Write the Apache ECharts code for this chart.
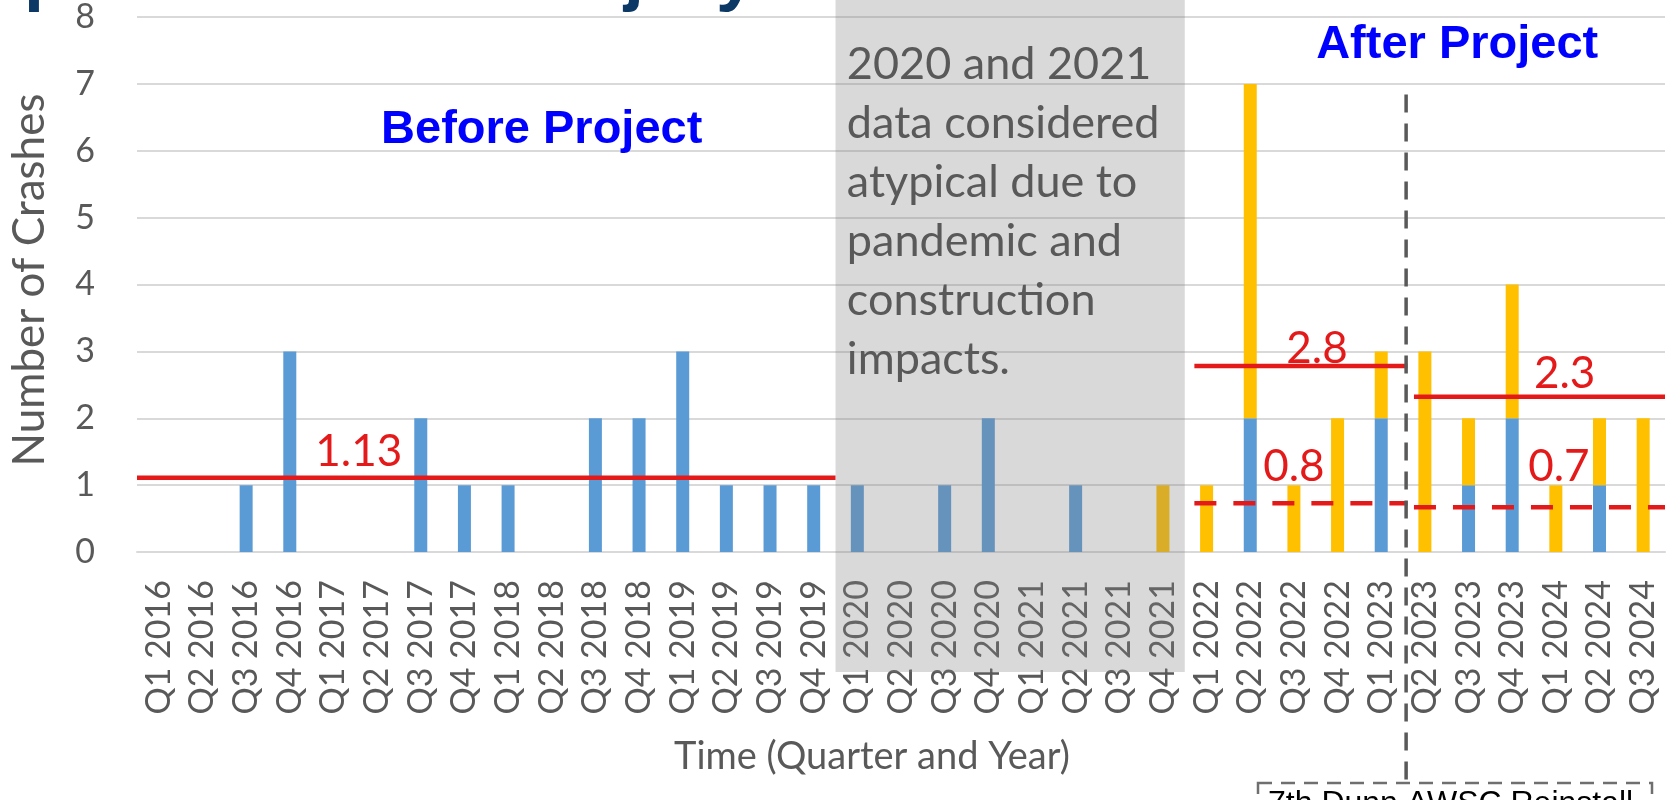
<!DOCTYPE html>
<html>
<head>
<meta charset="utf-8">
<script src="https://cdn.jsdelivr.net/npm/echarts@6/dist/echarts.min.js"></script>
<style>
html,body{margin:0;padding:0;background:#fff;}
#chart{width:1666px;height:800px;}
</style>
</head>
<body>
<div id="chart"></div>
<script>
// ---- data ----
const categories = [
  'Q1 2016','Q2 2016','Q3 2016','Q4 2016',
  'Q1 2017','Q2 2017','Q3 2017','Q4 2017',
  'Q1 2018','Q2 2018','Q3 2018','Q4 2018',
  'Q1 2019','Q2 2019','Q3 2019','Q4 2019',
  'Q1 2020','Q2 2020','Q3 2020','Q4 2020',
  'Q1 2021','Q2 2021','Q3 2021','Q4 2021',
  'Q1 2022','Q2 2022','Q3 2022','Q4 2022',
  'Q1 2023','Q2 2023','Q3 2023','Q4 2023',
  'Q1 2024','Q2 2024','Q3 2024'
];
const blueCrashes = [0,0,1,3, 0,0,2,1, 1,0,2,2, 3,1,1,1, 1,0,1,2, 0,1,0,0, 0,2,0,0, 2,0,1,2, 0,1,0];
const orangeCrashes = [0,0,0,0, 0,0,0,0, 0,0,0,0, 0,0,0,0, 0,0,0,0, 0,0,0,1, 1,5,1,2, 1,3,1,2, 1,1,2];

// average lines (x in category-index units, y in crashes)
const avgLineStart = [-0.5, 23.72, 28.75];
const avgLineEnd   = [15.5, 28.6, 34.5];
const totalAvg     = [1.11, 2.78, 2.32];
const blueAvg      = [null, 0.73, 0.67];
const totalAvgText = ['1.13', '2.8', '2.3'];
const blueAvgText  = [null, '0.8', '0.7'];

const atypicalFrom = 15.5, atypicalTo = 23.5;
const projectSplit = 28.57;

// ---- chart ----
const chart = echarts.init(document.getElementById('chart'), null, {renderer: 'canvas'});
const RED = '#e41a1a';
const GRAYTXT = '#595959';

const series = [
  {type: 'bar', name: 'blue', stack: 'c', data: blueCrashes, barWidth: 13,
   itemStyle: {color: '#5b9bd5'}, z: 2},
  {type: 'bar', name: 'orange', stack: 'c', data: orangeCrashes, barWidth: 13,
   itemStyle: {color: '#ffc000'}, z: 2}
];
for (let i = 0; i < avgLineStart.length; i++) {
  series.push({type: 'line', xAxisIndex: 1, yAxisIndex: 0, symbol: 'none', clip: false, z: 5,
    data: [[avgLineStart[i], totalAvg[i]], [avgLineEnd[i], totalAvg[i]]],
    lineStyle: {color: RED, width: 4.5}});
  if (blueAvg[i] != null) {
    series.push({type: 'line', xAxisIndex: 1, yAxisIndex: 0, symbol: 'none', clip: false, z: 5,
      data: [[avgLineStart[i], blueAvg[i]], [avgLineEnd[i], blueAvg[i]]],
      lineStyle: {color: RED, width: 4.5, type: [22, 17]}});
  }
}

chart.setOption({
  animation: false,
  grid: {left: 137, right: 1, top: 13, bottom: 248},
  xAxis: [
    {type: 'category', data: categories, boundaryGap: true,
     axisLine: {lineStyle: {color: '#d9d9d9', width: 2}},
     axisTick: {show: false},
     axisLabel: {rotate: 90, margin: 28, interval: 0, color: GRAYTXT, fontFamily: 'Lato', fontSize: 34}},
    {type: 'value', min: -0.5, max: 34.5, show: false}
  ],
  yAxis: {type: 'value', min: 0, max: 8, interval: 1,
    axisLine: {show: false}, axisTick: {show: false},
    splitLine: {lineStyle: {color: '#d9d9d9', width: 2}},
    axisLabel: {margin: 42, color: GRAYTXT, fontFamily: 'Lato', fontSize: 34}},
  series: series
});

function px(x) { return chart.convertToPixel({xAxisIndex: 1}, x); }
function py(y) { return chart.convertToPixel({yAxisIndex: 0}, y); }

const g = [];
// partially visible slide title (only its lowest part falls inside the picture)
g.push({type: 'text', z: 20, style: {text: 'Impact on Fatal & Injury Crashes', x: -60, y: 13,
  font: 'bold 72px "Liberation Sans"', fill: '#0c3866', textAlign: 'left', textVerticalAlign: 'bottom'}});
// atypical period shading
const gx0 = px(atypicalFrom), gx1 = px(atypicalTo);
g.push({type: 'rect', z: 10, shape: {x: gx0, y: 0, width: gx1 - gx0, height: 672},
  style: {fill: 'rgba(128,128,128,0.3)'}});
g.push({type: 'text', z: 11, style: {
  text: '2020 and 2021\ndata considered\natypical due to\npandemic and\nconstruction\nimpacts.',
  x: px(15.76), y: 35, font: '45px Lato', fill: GRAYTXT, lineHeight: 59,
  textAlign: 'left', textVerticalAlign: 'top'}});
// phase labels
g.push({type: 'text', z: 11, style: {text: 'Before Project', x: px(8.77), y: py(6.09) + 9,
  font: 'bold 47px "Liberation Sans"', fill: '#0000ff', textAlign: 'center', textVerticalAlign: 'bottom'}});
g.push({type: 'text', z: 11, style: {text: 'After Project', x: px(29.74), y: py(7.37) + 9,
  font: 'bold 47px "Liberation Sans"', fill: '#0000ff', textAlign: 'center', textVerticalAlign: 'bottom'}});
// value labels
const totalLabelAt = [[4.58, 1.30], [26.53, 2.84], [32.2, 2.47]];
const blueLabelAt = [null, [26.0, 1.08], [32.07, 1.08]];
for (let i = 0; i < totalAvgText.length; i++) {
  g.push({type: 'text', z: 12, style: {text: totalAvgText[i], x: px(totalLabelAt[i][0]), y: py(totalLabelAt[i][1]) + 9,
    font: '44px Lato', fill: RED, textAlign: 'center', textVerticalAlign: 'bottom'}});
  if (blueAvgText[i]) {
    g.push({type: 'text', z: 12, style: {text: blueAvgText[i], x: px(blueLabelAt[i][0]), y: py(blueLabelAt[i][1]) + 9,
      font: '44px Lato', fill: RED, textAlign: 'center', textVerticalAlign: 'bottom'}});
  }
}
// project split marker
const sx = px(projectSplit);
g.push({type: 'line', z: 12, shape: {x1: sx, y1: py(6.84), x2: sx, y2: 783},
  style: {stroke: '#595959', lineWidth: 3.5, lineDash: [18, 11]}});
g.push({type: 'rect', z: 12, shape: {x: 1258, y: 783, width: 394, height: 60},
  style: {fill: 'none', stroke: '#6f6f6f', lineWidth: 2.5, lineDash: [14, 9]}});
g.push({type: 'text', z: 12, style: {text: '7th Dunn AWSC Reinstall', x: 1268, y: 788,
  font: '32px "Liberation Sans"', fill: '#000', textAlign: 'left', textVerticalAlign: 'top'}});
// axis titles
g.push({type: 'text', z: 12, rotation: Math.PI / 2, x: 30, y: 280, style: {text: 'Number of Crashes', x: 0, y: 0,
  font: '44px Lato', fill: GRAYTXT, textAlign: 'center', textVerticalAlign: 'middle'}});
g.push({type: 'text', z: 12, style: {text: 'Time (Quarter and Year)', x: 872, y: 757,
  font: '38px Lato', fill: GRAYTXT, textAlign: 'center', textVerticalAlign: 'middle'}});

chart.setOption({graphic: g});
</script>
</body>
</html>
